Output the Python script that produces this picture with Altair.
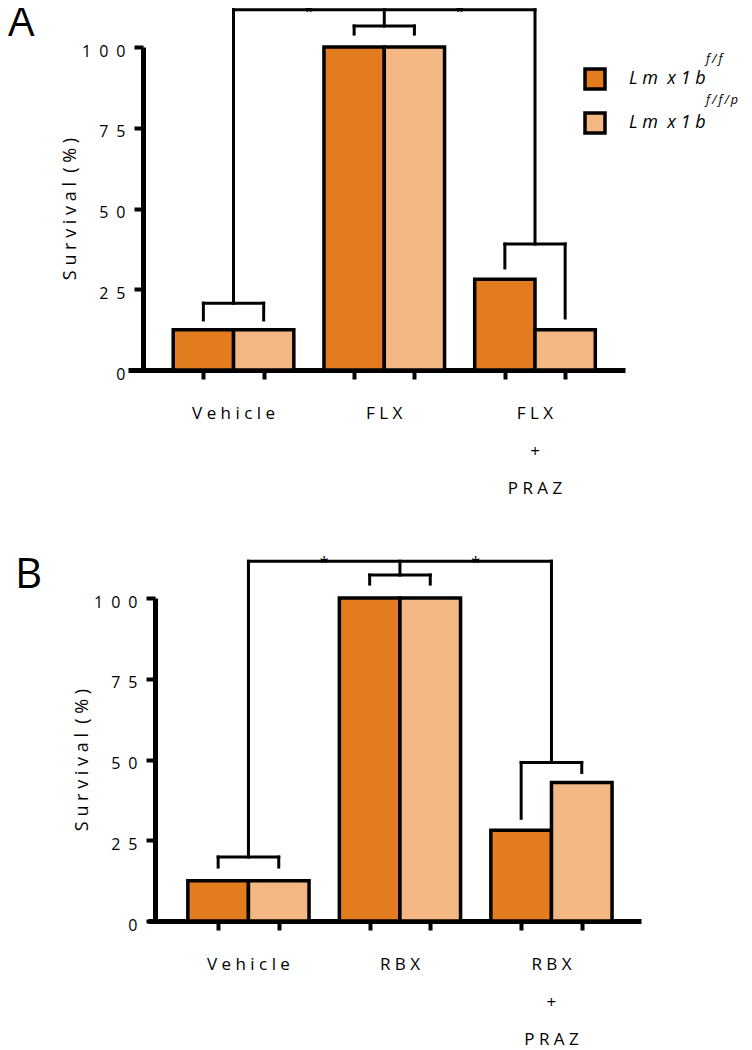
import altair as alt
import pandas as pd

# ---------------- data ----------------
GENOTYPES = ["Lmx1b f/f", "Lmx1b f/f/p"]
GENO_WORDS = ["Lm", "x1b"]
GENO_SUP = ["f/f", "f/f/p"]
COLORS = ["#E27C1E", "#F2B783"]

GROUPS_A = ["Vehicle", "FLX", "FLX + PRAZ"]
DARK_A = [12.5, 100, 28.1]
LIGHT_A = [12.5, 100, 12.5]

GROUPS_B = ["Vehicle", "RBX", "RBX + PRAZ"]
DARK_B = [12.5, 100, 28.1]
LIGHT_B = [12.5, 100, 42.9]

# significance brackets (in % survival units)
BRACKET_A = [20.7, 106.5, 39.0]
LEGS_A = [[15.5, 15.5], [104.0, 104.0], [31.6, 16.1]]
TOP_A = 111.5
BRACKET_B = [19.8, 107.1, 49.1]
LEGS_B = [[16.7, 16.7], [104.3, 104.3], [31.8, 46.0]]
TOP_B = 111.4
STARS = ["*", "*"]

Y_TICKS = [0, 25, 50, 75, 100]
Y_TITLE = "Survival (%)"

FONT = "Open Sans"
D = 0.2  # half bar width, in group units
NBSP = "\u00a0"


def spaced(s, sep=" "):
    return sep.join(list(s))


def bars_df(groups, dark, light):
    rows = []
    for i, g in enumerate(groups):
        for j, (geno, val) in enumerate(zip(GENOTYPES, [dark[i], light[i]])):
            rows.append(dict(group=g, genotype=geno, value=val, base=0,
                             x0=i - 2 * D + j * 2 * D, x1=i + j * 2 * D))
    return pd.DataFrame(rows)


def bracket_df(heights, legs, top):
    segs = []
    for i, (h, (l0, l1)) in enumerate(zip(heights, legs)):
        segs += [(i - D, i + D, h, h), (i - D, i - D, h, l0),
                 (i + D, i + D, h, l1), (i, i, h, top)]
    segs.append((0, len(heights) - 1, top, top))
    return pd.DataFrame(segs, columns=["x", "x2", "y", "y2"])


def label_lines(g):
    parts = g.split(" + ")
    lines = [spaced(parts[0])]
    for p in parts[1:]:
        lines += ["+", spaced(p)]
    return lines


# y tick labels, digits spaced like the figure
y_expr = "''"
for v in reversed(Y_TICKS):
    y_expr = "datum.value == %s ? '%s' : (%s)" % (v, spaced(str(v), "\u2002"), y_expr)

y_title = (NBSP * 2).join(spaced(w, NBSP) for w in Y_TITLE.split(" "))


def panel(letter, groups, dark, light, heights, legs, top, xdomain, xrange,
          yoffset, letter_x, letter_y, legend):
    n = len(groups)
    if xrange:
        xs = alt.Scale(domain=xdomain, range=xrange)
    else:
        xs = alt.Scale(domain=xdomain)
    ys = alt.Scale(domain=[0, 100])

    ticks = []
    for i in range(n):
        ticks += [i - D, i + D]

    xaxis = alt.Axis(values=ticks, title=None, grid=False, labels=False,
                     domainColor="black", domainWidth=5, tickColor="black",
                     tickWidth=4, tickSize=9)
    yaxis = alt.Axis(values=Y_TICKS, title=y_title, grid=False,
                     offset=yoffset, domainColor="black", domainWidth=5,
                     tickColor="black", tickWidth=4, tickSize=9,
                     labelExpr=y_expr,
                     labelFont=FONT, labelFontSize=16, labelColor="black",
                     labelPadding=9, labelOffset=4, labelBaseline="middle",
                     titleFont=FONT, titleFontSize=18, titleFontWeight="normal",
                     titleColor="black", titlePadding=2)

    fill = alt.Fill("genotype:N", scale=alt.Scale(domain=GENOTYPES, range=COLORS),
                    legend=legend)
    bars = alt.Chart(bars_df(groups, dark, light)).mark_bar(
        stroke="black", strokeWidth=3.5).encode(
        x=alt.X("x0:Q", scale=xs, axis=xaxis),
        x2="x1:Q",
        y=alt.Y("value:Q", scale=ys, axis=yaxis),
        y2="base:Q",
        fill=fill)

    rules = alt.Chart(bracket_df(heights, legs, top)).mark_rule(
        color="black", strokeWidth=3, strokeCap="square").encode(
        x=alt.X("x:Q", scale=xs, axis=None), x2="x2:Q",
        y=alt.Y("y:Q", scale=ys, axis=None), y2="y2:Q")

    sdf = pd.DataFrame({"x": [k + 0.5 for k in range(len(STARS))],
                        "y": [top] * len(STARS), "star": STARS})
    stars = alt.Chart(sdf).mark_text(font=FONT, fontSize=16, baseline="middle",
                                     dy=2, color="black").encode(
        x=alt.X("x:Q", scale=xs, axis=None),
        y=alt.Y("y:Q", scale=ys, axis=None), text="star:N")

    cdf = pd.DataFrame({"x": list(range(n)), "base": [0] * n,
                        "label": [label_lines(g) for g in groups]})
    cats = alt.Chart(cdf).mark_text(font=FONT, fontSize=17, baseline="top",
                                    align="center", lineHeight=37.5, dy=36,
                                    color="black").encode(
        x=alt.X("x:Q", scale=xs, axis=None),
        y=alt.Y("base:Q", scale=ys, axis=None), text="label")

    let = alt.Chart(pd.DataFrame({"t": [letter]})).mark_text(
        font=FONT, fontSize=42, align="left", baseline="alphabetic",
        color="black").encode(x=alt.value(letter_x), y=alt.value(letter_y),
                              text="t:N")

    return [bars, rules, stars, cats, let]


geno_label = (NBSP * 2).join(spaced(w) for w in GENO_WORDS)
legend_a = alt.Legend(title=None, orient="none", legendX=455, legendY=20,
                      symbolType="square", symbolSize=400, symbolStrokeWidth=3.5,
                      symbolStrokeColor="black", symbolOpacity=1,
                      labelExpr="'" + geno_label + "'",
                      labelFont=FONT, labelFontSize=18, labelFontStyle="italic",
                      labelColor="black", labelOffset=22, rowPadding=10,
                      padding=0)

layers_a = panel("A", GROUPS_A, DARK_A, LIGHT_A, BRACKET_A, LEGS_A, TOP_A,
                 [-0.700, 2.597], None, -15, -120, -11, legend_a)

sup_layers = []
for k, s in enumerate(GENO_SUP):
    sup_layers.append(
        alt.Chart(pd.DataFrame({"t": [spaced(s, "\u2009")]})).mark_text(
            font=FONT, fontSize=12.5, fontStyle="italic", align="left",
            baseline="middle", color="black").encode(
            x=alt.value(578), y=alt.value(12 + 41 * k), text="t:N"))

chart_a = alt.layer(*(layers_a + sup_layers)).resolve_axis(
    x="independent", y="independent").properties(width=497, height=323)

layers_b = panel("B", GROUPS_B, DARK_B, LIGHT_B, BRACKET_B, LEGS_B, TOP_B,
                 [-0.663, 2.591], [20, 513], -27, -113, -10, None)
chart_b = alt.layer(*layers_b).resolve_axis(
    x="independent", y="independent").properties(width=513, height=323)

chart = alt.vconcat(chart_a, chart_b, spacing=228, bounds="flush").resolve_scale(
    x="independent", y="independent", fill="independent").resolve_legend(
    fill="independent").properties(
    padding={"top": -6, "left": 0, "right": 0, "bottom": 0}).configure_view(stroke=None)

chart.save("out.html", embed_options={"renderer": "svg", "actions": False})
